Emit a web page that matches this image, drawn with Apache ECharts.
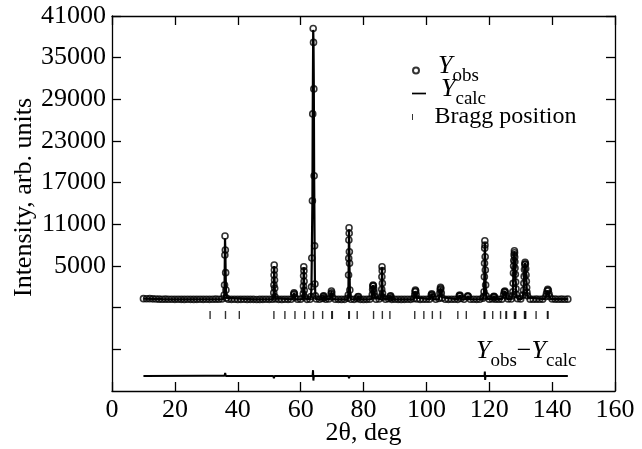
<!DOCTYPE html>
<html>
<head>
<meta charset="utf-8">
<script src="https://cdn.jsdelivr.net/npm/echarts@6/dist/echarts.min.js"></script>
<style>
  html, body { margin: 0; padding: 0; background: #fff; }
  #main { width: 642px; height: 449px; }
</style>
</head>
<body>
<div id="main"></div>
<script>
// axis ticks
var xTicks = [0, 20, 40, 60, 80, 100, 120, 140, 160];
var yTicks = [-7000, -1000, 5000, 11000, 17000, 23000, 29000, 35000, 41000];
var yLabels = [5000, 11000, 17000, 23000, 29000, 35000, 41000];

// observed background points, one per degree from 10 to 145 (null = inside a peak, see obsPeaks)
var obsStart = 10, obsStep = 1;
var obsBase = [
  300, 280, 300, 270, 250, 230, 220, 230, 210, 220,
  200, 210, 200, 190, 210, 200, 190, 200, 210, 200,
  220, 200, 210, 230, 220, 240, null, 220, 200, 210,
  190, 200, 210, 190, 200, 200, 180, 190, 200, 210,
  200, 220, 250, 200, 190, 210, 200, 220, null, 210,
  230, null, 200, 220, null, 250, 210, 320, 220, 250,
  null, 210, 200, 190, 200, 350, 220, 200, 300, 200,
  190, 200, 230, null, 220, 250, null, 220, 280, 200,
  210, 200, 190, 200, 210, 200, 300, 250, 200, 210,
  220, 230, 550, 210, 330, 400, 220, 200, 210, 220,
  200, 320, 220, null, 220, 210, 200, 220, 370, null,
  230, 250, 230, 220, 230, null, 260, 250, null, 300,
  260, null, null, 230, 220, 230, 220, 230, null, null,
  250, 230, 220, 230, 220, 230
];

// observed points on the peaks [2theta, intensity]
var obsPeaks = [
  [35.95, 9320], [36.05, 7300], [35.9, 6580], [36.15, 4040], [35.8, 2260], [36.25, 1540], [35.7, 820], [36.4, 400],
  [51.6, 5150], [51.65, 4420], [51.55, 3700], [51.7, 2980], [51.5, 2260], [51.75, 1790], [51.45, 1150], [51.85, 580],
  [57.8, 900], [57.9, 1150], [58.0, 1000], [58.15, 500],
  [61.0, 4900], [61.05, 4300], [60.95, 3600], [61.1, 2800], [60.9, 2100], [61.15, 1500], [60.85, 1000], [61.25, 550],
  [64.0, 39200], [64.1, 37200], [64.2, 30500], [63.85, 26900], [64.3, 18000], [63.75, 14400], [64.45, 7900],
  [63.55, 6150], [64.55, 2400], [63.45, 2000], [64.7, 700], [63.3, 600],
  [67.2, 650], [67.35, 700], [67.5, 450],
  [69.7, 1000], [69.8, 1400], [69.9, 1150], [70.05, 550],
  [75.4, 10500], [75.45, 9700], [75.35, 8750], [75.5, 7060], [75.3, 6100], [75.55, 5400], [75.25, 3700], [75.65, 1540], [75.15, 820],
  [78.2, 550], [78.4, 600],
  [82.8, 900], [82.9, 1600], [83.0, 2100], [83.05, 2260], [83.15, 2150], [83.25, 1700], [83.35, 1200], [83.5, 700],
  [85.9, 4900], [85.95, 4330], [85.85, 3460], [86.0, 2500], [85.8, 1640], [86.05, 1070], [85.7, 600], [86.2, 500],
  [88.5, 650], [88.65, 720], [88.8, 450],
  [96.3, 800], [96.4, 1300], [96.5, 1540], [96.6, 1400], [96.75, 900],
  [101.55, 800], [101.7, 1000], [101.85, 850],
  [104.3, 1100], [104.4, 1600], [104.5, 1930], [104.6, 1750], [104.75, 1100],
  [110.45, 700], [110.6, 800], [110.75, 700],
  [113.05, 600], [113.2, 700], [113.35, 600],
  [118.6, 8640], [118.65, 8020], [118.55, 7550], [118.7, 6340], [118.5, 5380], [118.75, 4420], [118.45, 3460],
  [118.85, 2260], [118.35, 1300], [119.0, 700], [118.2, 600],
  [121.35, 550], [121.5, 650], [121.65, 550],
  [124.6, 900], [124.8, 1300], [124.95, 1400], [125.1, 1200], [125.3, 700],
  [127.35, 700], [127.5, 1300], [127.6, 2500], [127.7, 4000], [127.75, 5000], [127.8, 5800], [127.9, 6600], [128.0, 7200],
  [128.05, 6900], [128.1, 6300], [128.15, 5600], [128.2, 4700], [128.3, 3800], [128.4, 2700], [128.5, 1700], [128.65, 900],
  [130.75, 800], [130.9, 1500], [131.0, 2500], [131.1, 3500], [131.2, 4500], [131.3, 5200], [131.4, 5550], [131.5, 5300],
  [131.6, 4600], [131.7, 3700], [131.8, 2800], [131.9, 1900], [132.0, 1200], [132.15, 700],
  [138.0, 600], [138.2, 1000], [138.4, 1400], [138.6, 1640], [138.8, 1500], [139.0, 1000], [139.2, 600]
];

// calculated profile [2theta, intensity]
var calcPoints = [
  [10, 300], [13, 270], [16, 220], [20, 200], [30, 210],
  [35.4, 230], [35.6, 500], [35.7, 850], [35.8, 2250], [35.9, 6550], [35.95, 9000], [36.05, 7250], [36.15, 4000], [36.25, 1550], [36.4, 420], [36.6, 220],
  [45, 200],
  [51.2, 210], [51.4, 600], [51.5, 2250], [51.6, 5000], [51.7, 3000], [51.8, 1200], [51.95, 350], [52.2, 210],
  [57.4, 210], [57.7, 600], [57.9, 1150], [58.1, 600], [58.4, 210],
  [60.6, 220], [60.8, 600], [60.9, 2100], [61.0, 4800], [61.1, 2800], [61.2, 1000], [61.35, 350], [61.6, 210],
  [63.1, 220], [63.3, 600], [63.45, 2000], [63.55, 6100], [63.75, 14400], [63.85, 26900], [64.0, 39000], [64.1, 37200],
  [64.2, 30500], [64.3, 18000], [64.45, 7900], [64.55, 2400], [64.7, 700], [64.9, 230],
  [66.9, 210], [67.1, 450], [67.3, 700], [67.5, 450], [67.7, 220],
  [69.3, 220], [69.6, 600], [69.8, 1400], [70.0, 650], [70.3, 210],
  [74.9, 200], [75.1, 500], [75.2, 1500], [75.3, 6000], [75.4, 10300], [75.5, 7100], [75.6, 3000], [75.7, 900], [75.9, 250], [76.1, 210],
  [77.9, 200], [78.3, 600], [78.7, 200],
  [82.4, 210], [82.7, 600], [82.9, 1700], [83.05, 2250], [83.2, 2000], [83.4, 1000], [83.6, 400], [83.9, 220],
  [85.4, 220], [85.6, 400], [85.75, 1100], [85.85, 3400], [85.9, 4800], [86.0, 2600], [86.1, 1000], [86.3, 300], [86.5, 210],
  [88.2, 220], [88.6, 720], [89.0, 200],
  [95.9, 200], [96.2, 500], [96.4, 1300], [96.5, 1540], [96.65, 1200], [96.85, 450], [97.2, 220],
  [101.1, 220], [101.5, 700], [101.7, 1000], [101.9, 700], [102.3, 220],
  [103.9, 210], [104.2, 600], [104.4, 1600], [104.5, 1930], [104.65, 1500], [104.9, 500], [105.2, 220],
  [110.1, 200], [110.6, 800], [111.1, 220],
  [112.7, 210], [113.2, 700], [113.7, 210],
  [117.9, 250], [118.2, 600], [118.35, 1300], [118.5, 5300], [118.6, 8400], [118.7, 6300], [118.8, 3400], [118.9, 1600], [119.05, 700], [119.4, 250],
  [121.0, 230], [121.5, 650], [122.0, 230],
  [124.1, 230], [124.5, 700], [124.9, 1400], [125.3, 700], [125.7, 250],
  [127.0, 250], [127.3, 600], [127.5, 1300], [127.7, 4000], [127.9, 6600], [128.0, 7100], [128.15, 5700], [128.3, 3800], [128.5, 1700], [128.7, 700], [129.0, 280],
  [130.4, 260], [130.7, 700], [130.9, 1500], [131.2, 4500], [131.4, 5450], [131.6, 4600], [131.8, 2800], [132.0, 1200], [132.3, 450], [132.6, 240],
  [137.6, 230], [138.1, 700], [138.4, 1400], [138.6, 1640], [138.8, 1450], [139.1, 700], [139.6, 240],
  [145, 230]
];

// Bragg reflection positions (2theta), drawn at a fixed level under the pattern
var braggPos = [31.2, 36.1, 40.5, 51.5, 55.0, 58.2, 61.3, 64.1, 67.0, 69.9, 70.1, 75.3, 75.5, 78.0, 83.2, 86.0, 88.4,
  96.3, 99.2, 101.9, 104.5, 110.0, 112.7, 118.4, 118.6, 121.1, 123.6, 125.3, 125.5, 128.0, 128.2, 128.4,
  131.2, 131.4, 131.6, 134.9, 138.5, 138.7];
var braggLevel = -2050;

// difference curve Yobs - Ycalc (offset)
var diffPoints = [
  [10, -10850], [30, -10800], [35.8, -10800], [36.0, -10400], [36.2, -10850], [51.3, -10850], [51.5, -11150], [51.7, -10850],
  [63.8, -10850], [63.95, -10000], [64.05, -11500], [64.2, -10850], [75.2, -10850], [75.4, -11150], [75.6, -10850],
  [85.8, -10850], [85.9, -10650], [86.0, -10850], [118.5, -10850], [118.6, -10200], [118.7, -11400], [118.8, -10850],
  [127.9, -10850], [128.0, -10650], [128.1, -10950], [128.2, -10850], [130.5, -10850], [130.6, -10650], [130.7, -10850],
  [145, -10850]
];

var obsData = [];
obsBase.forEach(function (v, i) {
  if (v !== null) obsData.push([obsStart + i * obsStep, v]);
});
obsPeaks.forEach(function (p) { obsData.push(p); });
var braggData = braggPos.map(function (t) { return [t, braggLevel]; });

var FONT = 'Liberation Serif';
var richText = {
  y: { fontFamily: FONT, fontStyle: 'italic', fontSize: 26, lineHeight: 26, padding: [0, 0, 9, 0], color: '#000', fill: '#000' },
  s: { fontFamily: FONT, fontSize: 19, lineHeight: 19, padding: [12, 0, 0, 0], color: '#000', fill: '#000' },
  m: { fontFamily: FONT, fontSize: 26, lineHeight: 26, padding: [0, 0, 9, 0], color: '#000', fill: '#000' },
  b: { fontFamily: FONT, fontSize: 24, lineHeight: 24, color: '#000', fill: '#000' },
  g: { width: 10 }
};

var myChart = echarts.init(document.getElementById('main'));

var tickStyle = { show: true, inside: true, length: 9, lineStyle: { color: '#000', width: 1.3 } };
var lineStyleAxis = { show: true, onZero: false, lineStyle: { color: '#000', width: 1.3 } };

function legendRow(item, top) {
  return {
    orient: 'vertical',
    left: 412,
    top: top,
    padding: 0,
    itemWidth: 14,
    itemHeight: 6,
    selectedMode: false,
    data: [item],
    formatter: function (name) {
      if (name === 'Yobs') return '{g|}{y|Y}{s|obs}';
      if (name === 'Ycalc') return '{g|}{y|Y}{s|calc}';
      return '{g|}{b|Bragg position}';
    },
    textStyle: { rich: richText }
  };
}

var option = {
  animation: false,
  backgroundColor: '#fff',
  grid: { left: 112, right: 27, top: 16, bottom: 58, containLabel: false, outerBoundsMode: 'none' },
  legend: [
    legendRow({ name: 'Yobs', icon: 'circle' }, 53),
    legendRow({ name: 'Ycalc', icon: 'path://M0,0H14V1.7H0Z' }, 76),
    legendRow({ name: 'Bragg position', icon: 'path://M0,0H1V6H0Z' }, 105)
  ],
  graphic: [{
    type: 'text',
    left: 476,
    top: 338,
    style: { text: '{y|Y}{s|obs}{m|\u2212}{y|Y}{s|calc}', rich: richText, fill: '#000' }
  }],
  xAxis: [
    {
      type: 'value', position: 'bottom', min: xTicks[0], max: xTicks[xTicks.length - 1], interval: 20,
      axisLine: lineStyleAxis, axisTick: tickStyle, splitLine: { show: false },
      name: '2\u03b8, deg', nameLocation: 'middle', nameGap: 29, nameMoveOverlap: false,
      nameTextStyle: { fontFamily: FONT, fontSize: 26, color: '#000' },
      axisLabel: { fontFamily: FONT, fontSize: 26, color: '#000', margin: 6 }
    },
    {
      type: 'value', position: 'top', min: xTicks[0], max: xTicks[xTicks.length - 1], interval: 20,
      axisLine: lineStyleAxis, axisTick: tickStyle, splitLine: { show: false },
      axisLabel: { show: false }
    }
  ],
  yAxis: [
    {
      type: 'value', position: 'left', min: -13000, max: 41000,
      axisLine: lineStyleAxis, splitLine: { show: false },
      axisTick: Object.assign({}, tickStyle, { customValues: yTicks }),
      axisLabel: {
        fontFamily: FONT, fontSize: 26, color: '#000', margin: 6, customValues: yLabels,
        formatter: function (v) { return String(v); }
      },
      name: 'Intensity, arb. units', nameLocation: 'middle', nameGap: 75, nameMoveOverlap: false,
      nameTextStyle: { fontFamily: FONT, fontSize: 26, color: '#000', padding: [0, 0, 0, 12] }
    },
    {
      type: 'value', position: 'right', min: -13000, max: 41000,
      axisLine: lineStyleAxis, splitLine: { show: false },
      axisTick: Object.assign({}, tickStyle, { customValues: yTicks }),
      axisLabel: { show: false }
    }
  ],
  series: [
    {
      name: 'Yobs',
      type: 'scatter',
      data: obsData,
      symbol: 'circle',
      symbolSize: 6,
      itemStyle: { color: 'rgba(255,255,255,0)', borderColor: '#000', borderWidth: 1.6 },
      z: 2
    },
    {
      name: 'Ycalc',
      type: 'line',
      data: calcPoints,
      symbol: 'none',
      lineStyle: { color: '#000', width: 2.2 },
      itemStyle: { color: '#000' },
      z: 3
    },
    {
      name: 'Bragg position',
      type: 'scatter',
      data: braggData,
      symbol: 'rect',
      symbolSize: [1.4, 8],
      itemStyle: { color: '#000' },
      z: 3
    },
    {
      name: 'diff',
      type: 'line',
      data: diffPoints,
      symbol: 'none',
      lineStyle: { color: '#000', width: 2 },
      z: 3
    }
  ]
};

myChart.setOption(option);
</script>
</body>
</html>
